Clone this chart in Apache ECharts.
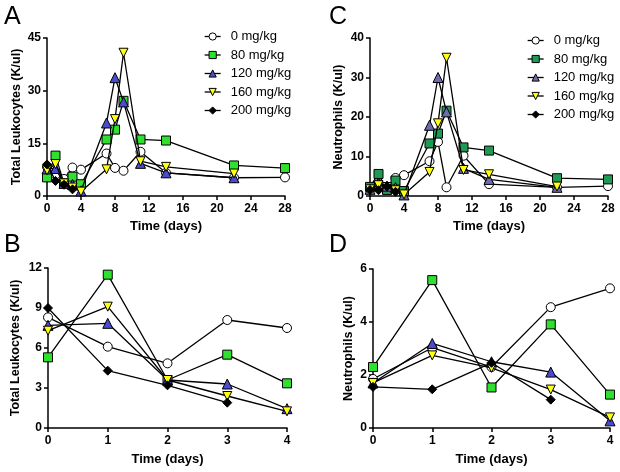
<!DOCTYPE html>
<html>
<head>
<meta charset="utf-8">
<script src="https://cdn.jsdelivr.net/npm/echarts@6/dist/echarts.min.js"></script>
<style>
  html, body { margin: 0; padding: 0; background: #fff; }
  #main { width: 620px; height: 472px; }
</style>
</head>
<body>
<div id="main"></div>
<script>
// doses
var doses = ["0 mg/kg", "80 mg/kg", "120 mg/kg", "160 mg/kg", "200 mg/kg"];

// long time course (panels A, C)
var daysLong = [0, 1, 2, 3, 4, 7, 8, 9, 11, 14, 22, 28];
// first four days (panels B, D)
var daysShort = [0, 1, 2, 3, 4];

// total leukocytes (K/ul)
var wbc0   = [8.3, 6.1, 4.85, 8.1, 7.5, 12.1, 8.0, 7.2, 12.6, 6.6, 5.2, 5.3];
var wbc80  = [5.3, 11.5, 3.6, 5.5, 3.35, 16.1, 18.9, 27.1, 16.1, 15.8, 8.7, 7.95];
var wbc120 = [7.7, 7.85, 3.6, 3.3, 1.45, 20.8, 33.7, 26.8, 9.3, 6.6, 5.2, null];
var wbc160 = [7.3, 9.1, 3.6, 2.4, 1.25, 7.6, 21.9, 40.8, 9.9, 8.3, 6.4, null];
var wbc200 = [9.0, 4.3, 3.2, 1.9, null, null, null, null, null, null, null, null];

// neutrophils (K/ul)
var neu0   = [1.85, 3.03, 2.3, 4.56, 5.27, 8.8, 13.7, 2.2, 10.2, 3.0, 2.2, 2.5];
var neu80  = [2.3, 5.58, 1.53, 3.91, 1.26, 13.3, 15.8, 21.6, 12.3, 11.5, 4.5, 4.2];
var neu120 = [1.7, 3.19, 2.5, 2.11, 0.27, 17.9, 30.0, 21.3, 7.0, 4.2, 2.2, null];
var neu160 = [1.7, 2.74, 2.27, 1.45, 0.4, 6.1, 18.4, 35.0, 6.6, 5.5, 2.4, null];
var neu200 = [1.55, 1.46, 2.46, 1.07, null, null, null, null, null, null, null, null];

var wbcAll = [wbc0, wbc80, wbc120, wbc160, wbc200];
var neuAll = [neu0, neu80, neu120, neu160, neu200];

var font = "'Liberation Sans', Arial, sans-serif";
var invTri = "path://M0,0 L10,0 L5,9 Z";

// marker styles, bright set (A, B, D) and muted set (C)
var brightFill = ["#ffffff", "#2fe02f", "#4b4bd0", "#ffff10", "#000000"];
var mutedFill  = ["#ffffff", "#1e9a55", "#6c6cae", "#ffff10", "#000000"];
var symbols = ["circle", "rect", "triangle", invTri, "diamond"];
var sizes = [9, 9, 10, 9, 9];

function pairs(xs, ys) {
    var out = [];
    for (var i = 0; i < xs.length; i++) {
        if (ys[i] !== null && ys[i] !== undefined) out.push([xs[i], ys[i]]);
    }
    return out;
}

var series = [];
function addPanel(idx, xs, sets, fills, n) {
    for (var s = 0; s < sets.length; s++) {
        series.push({
            name: doses[s],
            type: "line",
            xAxisIndex: idx,
            yAxisIndex: idx,
            data: pairs(xs.slice(0, n), sets[s].slice(0, n)),
            symbol: symbols[s],
            symbolSize: sizes[s],
            showSymbol: true,
            animation: false,
            z: 2 + s,
            lineStyle: { color: "#000", width: 1.3 },
            itemStyle: { color: fills[s], borderColor: "#000", borderWidth: 1 }
        });
    }
}

addPanel(0, daysLong, wbcAll, brightFill, 12);
addPanel(1, daysLong, neuAll, mutedFill, 12);
addPanel(2, daysShort, wbcAll, brightFill, 5);
addPanel(3, daysShort, neuAll, brightFill, 5);

var grids = [
    { left: 47, top: 38, width: 238, height: 158 },
    { left: 370, top: 38, width: 238, height: 158 },
    { left: 48, top: 268, width: 239, height: 160 },
    { left: 373, top: 269, width: 237, height: 159 }
];

function xAxis(idx, max, interval, gap) {
    return {
        type: "value", gridIndex: idx, min: 0, max: max, interval: interval,
        name: "Time (days)", nameLocation: "middle", nameGap: gap,
        nameTextStyle: { fontFamily: font, fontWeight: "bold", fontSize: 13, color: "#000" },
        axisLine: { lineStyle: { color: "#000", width: 1.5 } },
        axisTick: { length: 4, lineStyle: { color: "#000", width: 1.5 } },
        axisLabel: { fontFamily: font, fontWeight: "bold", fontSize: 12, color: "#000", margin: 7 },
        splitLine: { show: false }
    };
}

function yAxis(idx, name, max, interval, gap) {
    return {
        type: "value", gridIndex: idx, min: 0, max: max, interval: interval,
        name: name, nameLocation: "middle", nameGap: gap, nameRotate: 90,
        nameTextStyle: { fontFamily: font, fontWeight: "bold", fontSize: 12.5, color: "#000" },
        axisLine: { show: true, lineStyle: { color: "#000", width: 1.5 } },
        axisTick: { show: true, length: 4, lineStyle: { color: "#000", width: 1.5 } },
        axisLabel: { fontFamily: font, fontWeight: "bold", fontSize: 12, color: "#000", margin: 6 },
        splitLine: { show: false }
    };
}

function legendData(fills) {
    return doses.map(function (d, i) {
        return {
            name: d,
            itemStyle: { color: fills[i], borderColor: "#000", borderWidth: 1 },
            lineStyle: { color: "#000", width: 1.3 }
        };
    });
}

function legend(left, top, fills) {
    return {
        orient: "vertical", left: left, top: top, padding: 0,
        itemWidth: 16, itemHeight: 9, itemGap: 3.5,
        selectedMode: false,
        textStyle: { fontFamily: font, fontSize: 13, color: "#000", lineHeight: 15, padding: [0, 0, 0, 5] },
        data: legendData(fills)
    };
}

function letter(txt, x, y) {
    return {
        type: "text", left: x, top: y,
        style: { text: txt, fontFamily: font, fontSize: 25, fill: "#000" }
    };
}

var chart = echarts.init(document.getElementById("main"));
chart.setOption({
    backgroundColor: "#fff",
    animation: false,
    grid: grids,
    xAxis: [xAxis(0, 28, 4, 24), xAxis(1, 28, 4, 24), xAxis(2, 4, 1, 25), xAxis(3, 4, 1, 25)],
    yAxis: [
        yAxis(0, "Total Leukocytes (K/ul)", 45, 15, 23.5),
        yAxis(1, "Neutrophils (K/ul)", 40, 10, 24.5),
        yAxis(2, "Total Leukocytes (K/ul)", 12, 3, 25.5),
        yAxis(3, "Neutrophils (K/ul)", 6, 2, 17.5)
    ],
    legend: [legend(204, 29, brightFill), legend(527, 33, mutedFill)],
    graphic: [
        letter("A", 4, 5),
        letter("C", 329, 5),
        letter("B", 4, 233),
        letter("D", 329, 233)
    ],
    series: series
});
</script>
</body>
</html>
